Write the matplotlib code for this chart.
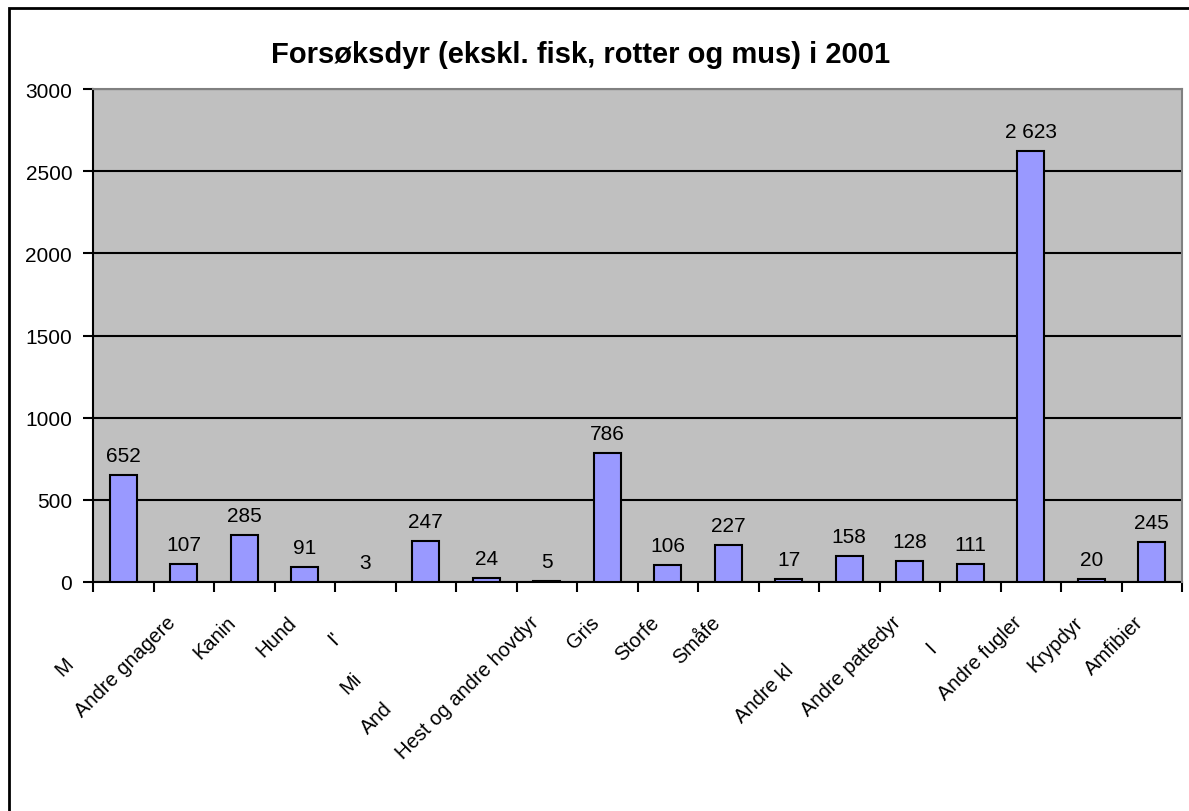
import numpy as np
import matplotlib.pyplot as plt
from matplotlib.patches import Rectangle

# category labels as visible in the source chart (several are cut off there)
labels = ["M", "Andre gnagere", "Kanin", "Hund", "I'", "Mi", "And",
          "Hest og andre hovdyr", "Gris", "Storfe", "Småfe", "",
          "Andre kl", "Andre pattedyr", "I", "Andre fugler", "Krypdyr", "Amfibier"]
values = [652, 107, 285, 91, 3, 247, 24, 5, 786, 106, 227, 17, 158, 128, 111, 2623, 20, 245]
value_text = ["652", "107", "285", "91", "3", "247", "24", "5", "786", "106", "227",
              "17", "158", "128", "111", "2 623", "20", "245"]
yticks = [0, 500, 1000, 1500, 2000, 2500, 3000]

# extra diagonal shift (pixels) of the cut-off labels
label_shift = [42, 0, 0, 0, 16, 56, 86, 0, 0, 0, 0, 0, 48, 0, 26, 0, 0, 0]

fnt = "Liberation Sans"

fig = plt.figure(figsize=(11.89, 8.12), dpi=100)
fig.patches.append(Rectangle((9 / 1189, -0.01), 1.0, 1 - 9 / 812 + 0.01,
                             transform=fig.transFigure, fill=False,
                             edgecolor="black", linewidth=2))

ax = fig.add_axes([93 / 1189, 1 - 583 / 812, (1182 - 93) / 1189, (583 - 90) / 812])
ax.set_facecolor("#C0C0C0")

x = np.arange(len(labels))
ax.bar(x, values, width=0.45, color="#9999FF", edgecolor="black", linewidth=1.5, zorder=3)

for xi, v, t in zip(x, values, value_text):
    ax.annotate(t, (xi, v), xytext=(0, 10), textcoords="offset pixels",
                ha="center", va="bottom", fontsize=15, family=fnt)

ax.set_xlim(-0.5, len(labels) - 0.5)
ax.set_ylim(0, 3000)
ax.set_yticks(yticks)
ax.set_yticklabels([str(t) for t in yticks], fontsize=15, family=fnt)
ax.yaxis.grid(True, color="black", linewidth=1.5, zorder=0)
ax.set_axisbelow(True)

# ticks at category boundaries
ax.set_xticks(np.arange(-0.5, len(labels) + 0.5, 1.0))
ax.set_xticklabels([])
ax.tick_params(axis="x", length=7, width=1.5, direction="out")
ax.tick_params(axis="y", length=7, width=1.5, direction="out", pad=8)

for xi, lbl, d in zip(x, labels, label_shift):
    ax.annotate(lbl, xy=(xi, 0), xycoords=("data", "axes fraction"),
                xytext=(-18 - d, -30 - d), textcoords="offset pixels",
                rotation=45, ha="right", va="top", rotation_mode="anchor",
                fontsize=14.5, family=fnt)

for s in ["top", "right"]:
    ax.spines[s].set_color("#808080")
    ax.spines[s].set_linewidth(1.5)
    ax.spines[s].set_zorder(5)
ax.spines["left"].set_linewidth(1.5)
ax.spines["bottom"].set_linewidth(1.5)

fig.text(581 / 1189, 1 - 55 / 812, "Forsøksdyr (ekskl. fisk, rotter og mus) i 2001",
         ha="center", va="center", fontsize=21, fontweight="bold", family=fnt)

fig.savefig("out.png", dpi=100)
